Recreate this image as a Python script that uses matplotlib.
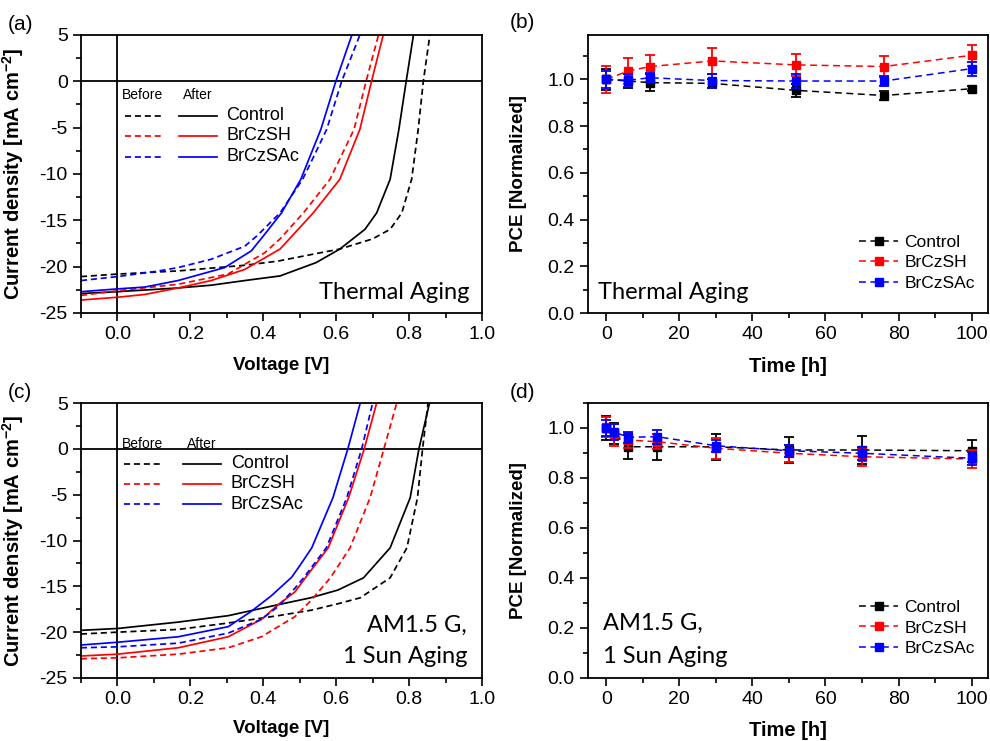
import matplotlib.pyplot as plt
from matplotlib.ticker import MultipleLocator

plt.rcParams['font.family'] = ['Liberation Sans', 'DejaVu Sans']
plt.rcParams['axes.unicode_minus'] = False
plt.rcParams['mathtext.fontset'] = 'custom'
plt.rcParams['mathtext.rm'] = 'Liberation Sans'
plt.rcParams['mathtext.bf'] = 'Liberation Sans:bold'

names = ["Control", "BrCzSH", "BrCzSAc"]
colors = ["black", "red", "blue"]

# ---- (a) J-V, thermal aging ----  (V in V, J in mA cm-2)
a_ctrl_before_v = [-0.1, 0.0, 0.166, 0.349, 0.44, 0.55, 0.61, 0.70, 0.748, 0.78, 0.807, 0.825, 0.839, 0.857]
a_ctrl_before_j = [-21.07, -20.8, -20.46, -19.85, -19.4, -18.55, -18.1, -17.0, -15.97, -14.2, -10.57, -5.18, 0, 5]
a_ctrl_after_v = [-0.1, 0.0, 0.166, 0.257, 0.349, 0.446, 0.545, 0.61, 0.679, 0.711, 0.748, 0.772, 0.792, 0.812]
a_ctrl_after_j = [-22.9, -22.7, -22.3, -22.0, -21.5, -21.0, -19.56, -18.1, -15.97, -14.2, -10.57, -5.18, 0, 5]
a_sh_before_v = [-0.1, 0.0, 0.166, 0.303, 0.404, 0.446, 0.51, 0.583, 0.649, 0.682, 0.716]
a_sh_before_j = [-23.1, -22.6, -21.9, -20.8, -18.5, -17.0, -14.2, -10.57, -5.18, 0, 5]
a_sh_after_v = [-0.1, 0.0, 0.075, 0.166, 0.257, 0.349, 0.446, 0.537, 0.61, 0.665, 0.697, 0.729]
a_sh_after_j = [-23.6, -23.3, -23.0, -22.3, -21.5, -20.3, -18.1, -14.2, -10.57, -5.18, 0, 5]
a_sac_before_v = [-0.1, 0.0, 0.107, 0.166, 0.257, 0.349, 0.382, 0.446, 0.508, 0.53, 0.574, 0.615, 0.665]
a_sac_before_j = [-21.5, -21.07, -20.5, -20.1, -19.2, -17.8, -16.7, -14.2, -10.57, -8.8, -5.18, 0, 5]
a_sac_after_v = [-0.1, 0.0, 0.075, 0.166, 0.294, 0.367, 0.40, 0.45, 0.503, 0.558, 0.599, 0.643]
a_sac_after_j = [-22.7, -22.4, -22.2, -21.5, -20.1, -18.3, -16.7, -14.2, -10.57, -5.18, 0, 5]

# ---- (c) J-V, 1 sun aging ----
c_ctrl_before_v = [-0.1, 0.0, 0.167, 0.304, 0.441, 0.532, 0.605, 0.666, 0.748, 0.794, 0.823, 0.837, 0.852]
c_ctrl_before_j = [-20.2, -20.0, -19.7, -19.0, -18.2, -17.6, -16.9, -16.25, -14.07, -10.8, -5.34, 0, 5]
c_ctrl_after_v = [-0.1, 0.0, 0.167, 0.304, 0.441, 0.53, 0.605, 0.675, 0.748, 0.803, 0.827, 0.856]
c_ctrl_after_j = [-19.8, -19.6, -18.9, -18.2, -17.0, -16.25, -15.4, -14.07, -10.8, -5.34, 0, 5]
c_sh_before_v = [-0.1, 0.0, 0.167, 0.304, 0.395, 0.487, 0.532, 0.584, 0.638, 0.693, 0.731, 0.766]
c_sh_before_j = [-22.9, -22.8, -22.4, -21.7, -20.5, -18.3, -16.5, -14.07, -10.8, -5.34, 0, 5]
c_sh_after_v = [-0.1, 0.0, 0.167, 0.304, 0.395, 0.441, 0.487, 0.515, 0.578, 0.634, 0.677, 0.711]
c_sh_after_j = [-22.6, -22.4, -21.7, -20.5, -18.6, -17.0, -15.6, -14.1, -10.8, -5.34, 0, 5]
c_sac_before_v = [-0.1, 0.0, 0.167, 0.304, 0.395, 0.441, 0.487, 0.51, 0.573, 0.629, 0.670, 0.70]
c_sac_before_j = [-21.7, -21.6, -21.2, -20.1, -18.6, -17.2, -15.2, -14.1, -10.8, -5.34, 0, 5]
c_sac_after_v = [-0.1, 0.0, 0.167, 0.304, 0.368, 0.423, 0.478, 0.501, 0.533, 0.591, 0.632, 0.666]
c_sac_after_j = [-21.4, -21.1, -20.5, -19.4, -17.7, -16.0, -14.0, -12.7, -10.8, -5.34, 0, 5]

# ---- (b) normalized PCE, thermal aging ----
b_time = [0, 6, 12, 29, 52, 76, 100]
b_ctrl = [1.0, 0.993, 0.986, 0.983, 0.953, 0.931, 0.960]
b_ctrl_err = [0.045, 0.03, 0.036, 0.02, 0.027, 0.02, 0.01]
b_sh = [1.0, 1.036, 1.055, 1.079, 1.062, 1.055, 1.103]
b_sh_err = [0.058, 0.057, 0.048, 0.057, 0.048, 0.043, 0.044]
b_sac = [1.0, 0.996, 1.007, 0.995, 0.993, 0.993, 1.046]
b_sac_err = [0.036, 0.027, 0.02, 0.03, 0.032, 0.023, 0.03]

# ---- (d) normalized PCE, 1 sun aging ----
d_time = [0, 2, 6, 14, 30, 50, 70, 100]
d_ctrl = [1.0, 0.979, 0.925, 0.925, 0.925, 0.912, 0.912, 0.909]
d_ctrl_err = [0.047, 0.043, 0.047, 0.053, 0.052, 0.053, 0.057, 0.043]
d_sh = [1.005, 0.972, 0.952, 0.945, 0.919, 0.899, 0.885, 0.876]
d_sh_err = [0.039, 0.045, 0.03, 0.03, 0.043, 0.033, 0.037, 0.037]
d_sac = [1.0, 0.985, 0.963, 0.965, 0.929, 0.909, 0.899, 0.879]
d_sac_err = [0.033, 0.033, 0.023, 0.027, 0.023, 0.023, 0.027, 0.027]

fig = plt.figure(figsize=(9.9, 7.41), dpi=100)
ax_a = fig.add_axes([81/990, 1-313/741, 401/990, 278/741])
ax_b = fig.add_axes([588/990, 1-313/741, 400/990, 278/741])
ax_c = fig.add_axes([81/990, 1-678/741, 401/990, 275/741])
ax_d = fig.add_axes([588/990, 1-678/741, 400/990, 275/741])


def style_axes(ax):
    for s in ax.spines.values():
        s.set_linewidth(1.3)
    ax.tick_params(which='both', direction='out', width=1.2, labelsize=14, top=False, right=False)
    ax.tick_params(which='major', length=6)
    ax.tick_params(which='minor', length=3.5)


def jv_panel(ax, curves, legend_pos, xlabel_y):
    ax.axhline(0, color='k', lw=1.3)
    ax.axvline(0, color='k', lw=1.3)
    for (vb, jb, va, ja), c in zip(curves, colors):
        ax.plot(vb, jb, color=c, lw=1.25, ls='--', dashes=(3.5, 2.2))
        ax.plot(va, ja, color=c, lw=1.25)
    ax.set_xlim(-0.1, 1.0)
    ax.set_ylim(-25, 5)
    ax.xaxis.set_major_locator(MultipleLocator(0.2))
    ax.xaxis.set_minor_locator(MultipleLocator(0.1))
    ax.yaxis.set_major_locator(MultipleLocator(5))
    ax.yaxis.set_minor_locator(MultipleLocator(2.5))
    style_axes(ax)
    ax.set_xlabel("Voltage [V]", fontsize=13.5, fontweight='bold')
    ax.set_ylabel(r"Current density [mA cm$^{\mathbf{-2}}$]", fontsize=14.5, fontweight='bold')
    ax.xaxis.set_label_coords(0.5, xlabel_y)
    ax.yaxis.set_label_coords(-0.138, 0.5)
    # hand-made legend: Before (dashed) / After (solid)
    hx, ax0, rows, dx, sx, lx = legend_pos
    ax.text(hx, rows[0] + 0.073, "Before", transform=ax.transAxes, fontsize=10, va='center')
    ax.text(ax0, rows[0] + 0.073, "After", transform=ax.transAxes, fontsize=10, va='center')
    for y, c, n in zip(rows, colors, names):
        ax.plot(dx, [y, y], transform=ax.transAxes, color=c, lw=1.25, ls='--', dashes=(3.5, 2.2))
        ax.plot(sx, [y, y], transform=ax.transAxes, color=c, lw=1.25)
        ax.text(lx, y, n, transform=ax.transAxes, fontsize=13, va='center')


def pce_panel(ax, t, series, ylim_top, xlabel_y):
    for (v, e), c, n in zip(series, colors, names):
        ax.errorbar(t, v, yerr=e, fmt='none', ecolor=c, elinewidth=1.3, capsize=3.5, capthick=1.3)
        ax.plot(t, v, color=c, lw=1.1, ls='--', dashes=(4.5, 3), marker='s', ms=5.5, label=n)
    ax.set_xlim(-5, 104.5)
    ax.set_ylim(0, ylim_top)
    ax.xaxis.set_major_locator(MultipleLocator(20))
    ax.xaxis.set_minor_locator(MultipleLocator(10))
    ax.yaxis.set_major_locator(MultipleLocator(0.2))
    ax.yaxis.set_minor_locator(MultipleLocator(0.1))
    style_axes(ax)
    ax.set_xlabel("Time [h]", fontsize=14.5, fontweight='bold')
    ax.set_ylabel("PCE [Normalized]", fontsize=13.5, fontweight='bold')
    ax.xaxis.set_label_coords(0.5, xlabel_y)
    ax.yaxis.set_label_coords(-0.152, 0.5)
    ax.legend(loc='lower right', bbox_to_anchor=(0.985, 0.055), frameon=False, fontsize=12.5,
              handlelength=2.2, handletextpad=0.4, labelspacing=0.3, borderaxespad=0)


jv_panel(ax_a,
         [(a_ctrl_before_v, a_ctrl_before_j, a_ctrl_after_v, a_ctrl_after_j),
          (a_sh_before_v, a_sh_before_j, a_sh_after_v, a_sh_after_j),
          (a_sac_before_v, a_sac_before_j, a_sac_after_v, a_sac_after_j)],
         (0.1015, 0.254, [0.7097, 0.6367, 0.5622], [0.1097, 0.2053], [0.2444, 0.34], 0.363),
         -0.158)
jv_panel(ax_c,
         [(c_ctrl_before_v, c_ctrl_before_j, c_ctrl_after_v, c_ctrl_after_j),
          (c_sh_before_v, c_sh_before_j, c_sh_after_v, c_sh_after_j),
          (c_sac_before_v, c_sac_before_j, c_sac_after_v, c_sac_after_j)],
         (0.1015, 0.265, [0.7782, 0.7055, 0.6327], [0.1072, 0.2027], [0.2536, 0.3484], 0.374),
         -0.152)

pce_panel(ax_b, b_time, [(b_ctrl, b_ctrl_err), (b_sh, b_sh_err), (b_sac, b_sac_err)], 1.19, -0.16)
pce_panel(ax_d, d_time, [(d_ctrl, d_ctrl_err), (d_sh, d_sh_err), (d_sac, d_sac_err)], 1.1, -0.155)

cond_font = dict(family=['Lato', 'DejaVu Sans'], fontsize=17, va='baseline')
ax_a.text(0.970, 0.049, "Thermal Aging", transform=ax_a.transAxes, ha='right', **cond_font)
ax_b.text(0.026, 0.049, "Thermal Aging", transform=ax_b.transAxes, ha='left', **cond_font)
ax_c.text(0.962, 0.168, "AM1.5 G,", transform=ax_c.transAxes, ha='right', **cond_font)
ax_c.text(0.965, 0.053, "1 Sun Aging", transform=ax_c.transAxes, ha='right', **cond_font)
ax_d.text(0.038, 0.175, "AM1.5 G,", transform=ax_d.transAxes, ha='left', **cond_font)
ax_d.text(0.038, 0.053, "1 Sun Aging", transform=ax_d.transAxes, ha='left', **cond_font)

for lab, x, y in [("(a)", 8, 24), ("(b)", 510, 22), ("(c)", 8, 392), ("(d)", 510, 392)]:
    fig.text(x/990, 1 - y/741, lab, fontsize=15, va='center', ha='left')

fig.savefig("out.png", dpi=100)
